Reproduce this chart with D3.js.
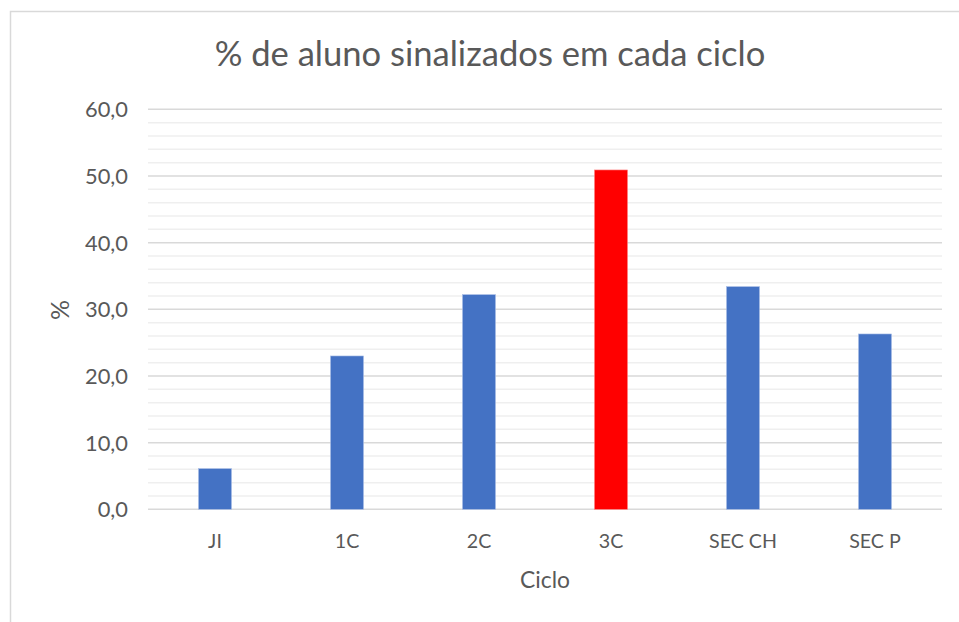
<!DOCTYPE html>
<html>
<head>
<meta charset="utf-8">
<script src="https://cdn.jsdelivr.net/npm/d3@7"></script>
<style>
body { margin: 0; background: #fff; }
svg text { font-family: Lato, "Open Sans", sans-serif; fill: #595959; }
</style>
</head>
<body>
<svg id="chart"></svg>
<script>
var width = 959,
height = 622;

// data
const ciclos = ["JI", "1C", "2C", "3C", "SEC CH", "SEC P"];
const valores = [6.1, 23.0, 32.2, 50.9, 33.4, 26.3];
const destaque = "3C";
const yTicks = [0, 10, 20, 30, 40, 50, 60];

const svg = d3.select("#chart")
    .attr("width", width)
    .attr("height", height);

// scale a font so that a sample string gets the width it has in the picture
function fitSize(sample, target) {
    var t = svg.append("text").style("font-size", "20px").text(sample);
    var w = t.node().getComputedTextLength();
    t.remove();
    return (20 * target / w) + "px";
}

// chart frame (cut off at the right and bottom like in the screenshot)
svg.append("rect")
    .attr("x", 10.5)
    .attr("y", 11.5)
    .attr("width", 1000)
    .attr("height", 1000)
    .attr("fill", "#fff")
    .attr("stroke", "#d9d9d9")
    .attr("stroke-width", 1.5);

var x = d3.scaleBand()
    .domain(ciclos)
    .range([149, 941])
    .paddingInner(0.75)
    .paddingOuter(0.375);

var y = d3.scaleLinear()
    .domain([0, 60])
    .range([509.3, 109.3]);

// minor gridlines every 2
svg.append("g")
    .selectAll("line")
    .data(d3.range(0, 61, 2).filter(d => d % 10 !== 0))
    .enter().append("line")
    .attr("x1", 148)
    .attr("x2", 942)
    .attr("y1", d => y(d))
    .attr("y2", d => y(d))
    .attr("stroke", "#efefef")
    .attr("stroke-width", 1.5);

// major gridlines
svg.append("g")
    .selectAll("line")
    .data(yTicks)
    .enter().append("line")
    .attr("x1", 148)
    .attr("x2", 942)
    .attr("y1", d => y(d))
    .attr("y2", d => y(d))
    .attr("stroke", "#d9d9d9")
    .attr("stroke-width", 1.5);

// y tick labels
var tickSize = fitSize("60,0", 43);
svg.append("g")
    .selectAll("text")
    .data(yTicks)
    .enter().append("text")
    .attr("x", 128)
    .attr("y", d => y(d))
    .attr("dy", "0.36em")
    .attr("text-anchor", "end")
    .style("font-size", tickSize)
    .text(d => d3.format(".1f")(d).replace(".", ","));

// bars
svg.append("g")
    .selectAll("rect")
    .data(ciclos)
    .enter().append("rect")
    .attr("x", d => x(d))
    .attr("width", x.bandwidth())
    .attr("y", (d, i) => y(valores[i]))
    .attr("height", (d, i) => y(0) - y(valores[i]))
    .attr("fill", d => d === destaque ? "#ff0000" : "#4472c4")
    .attr("stroke", d => d === destaque ? "#ff8080" : "#a9bde6")
    .attr("stroke-width", 0.6);

// x labels
var catSize = fitSize("SEC CH", 68);
svg.append("g")
    .selectAll("text")
    .data(ciclos)
    .enter().append("text")
    .attr("x", d => x(d) + x.bandwidth() / 2)
    .attr("y", 548)
    .attr("text-anchor", "middle")
    .style("font-size", catSize)
    .text(d => d);

// axis titles
svg.append("text")
    .attr("x", 545)
    .attr("y", 588)
    .attr("text-anchor", "middle")
    .style("font-size", fitSize("Ciclo", 50))
    .text("Ciclo");

svg.append("text")
    .attr("transform", "translate(69,310) rotate(-90)")
    .attr("text-anchor", "middle")
    .style("font-size", fitSize("%", 20))
    .text("%");

// title, sized to the width it has in the picture
svg.append("text")
    .attr("x", 490)
    .attr("y", 66)
    .attr("text-anchor", "middle")
    .style("font-size", fitSize("% de aluno sinalizados em cada ciclo", 551))
    .text("% de aluno sinalizados em cada ciclo");
</script>
</body>
</html>
